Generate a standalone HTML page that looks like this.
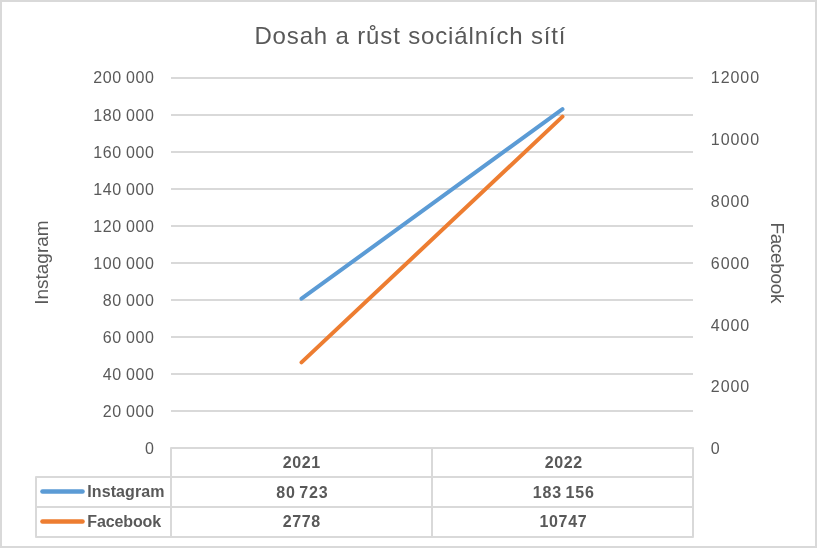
<!DOCTYPE html>
<html><head><meta charset="utf-8">
<style>
html,body{margin:0;padding:0;background:#fff;}
body{width:817px;height:548px;overflow:hidden;}
svg{display:block;will-change:transform;font-family:"Liberation Sans",sans-serif;}
.ax{font-size:16px;fill:#595959;}
.tb{font-size:16px;font-weight:bold;fill:#595959;}
</style></head><body>
<svg width="817" height="548" viewBox="0 0 817 548">
<rect x="1" y="1" width="815" height="546" fill="#fff" stroke="#d9d9d9" stroke-width="2"/>
<text x="410.4" y="43.7" text-anchor="middle" letter-spacing="0.85" style="font-size:24px;fill:#595959">Dosah a růst sociálních sítí</text>
<g stroke="#d9d9d9" stroke-width="2" fill="none">
<path d="M171 78H693M171 115H693M171 152H693M171 189H693M171 226H693M171 263H693M171 300H693M171 337H693M171 374H693M171 411H693"/>
<path d="M36 477V537H693V448H171V477Z" stroke-linejoin="round"/>
<path d="M171 477H693M36 507H693M171 477V537M432 448V537"/>
</g>
<g class="ax" text-anchor="end" letter-spacing="0.55" word-spacing="-0.6">
<text x="154.4" y="83.3">200 000</text>
<text x="154.4" y="121.0">180 000</text>
<text x="154.4" y="158.0">160 000</text>
<text x="154.4" y="195.0">140 000</text>
<text x="154.4" y="232.0">120 000</text>
<text x="154.4" y="269.0">100 000</text>
<text x="154.4" y="306.0">80 000</text>
<text x="154.4" y="343.0">60 000</text>
<text x="154.4" y="380.0">40 000</text>
<text x="154.4" y="417.0">20 000</text>
<text x="154.4" y="454.0">0</text>
</g>
<g class="ax" text-anchor="start" letter-spacing="0.95">
<text x="710.8" y="83.4">12000</text>
<text x="710.8" y="145.2">10000</text>
<text x="710.8" y="206.9">8000</text>
<text x="710.8" y="268.7">6000</text>
<text x="710.8" y="330.5">4000</text>
<text x="710.8" y="392.2">2000</text>
<text x="710.8" y="454.0">0</text>
</g>
<text transform="translate(47.5,262.6) rotate(-90)" text-anchor="middle" style="font-size:19px;fill:#595959">Instagram</text>
<text transform="translate(770.5,262.7) rotate(90)" text-anchor="middle" letter-spacing="-0.35" style="font-size:19px;fill:#595959">Facebook</text>
<g stroke-width="4" stroke-linecap="round" fill="none">
<path d="M301.5 298.7L562.5 109.2" stroke="#5b9bd5"/>
<path d="M301.5 362.35L562.5 116.6" stroke="#ed7d31"/>
<path d="M42.5 491.5H82.5" stroke="#5b9bd5" stroke-width="4.6"/>
<path d="M42.5 521.5H82.5" stroke="#ed7d31" stroke-width="4.6"/>
</g>
<g class="tb" text-anchor="middle" letter-spacing="0.68">
<text x="301.8" y="468">2021</text>
<text x="563.8" y="468">2022</text>
<text x="302.4" y="497.6" letter-spacing="0.9" word-spacing="-2">80 723</text>
<text x="563.8" y="497.6" letter-spacing="0.9" word-spacing="-2">183 156</text>
<text x="301.8" y="527.2">2778</text>
<text x="563.4" y="527.2">10747</text>
</g>
<g class="tb" text-anchor="start">
<text x="87.3" y="496.8" letter-spacing="0.08">Instagram</text>
<text x="87.3" y="526.6" letter-spacing="-0.12">Facebook</text>
</g>
</svg>
</body></html>
